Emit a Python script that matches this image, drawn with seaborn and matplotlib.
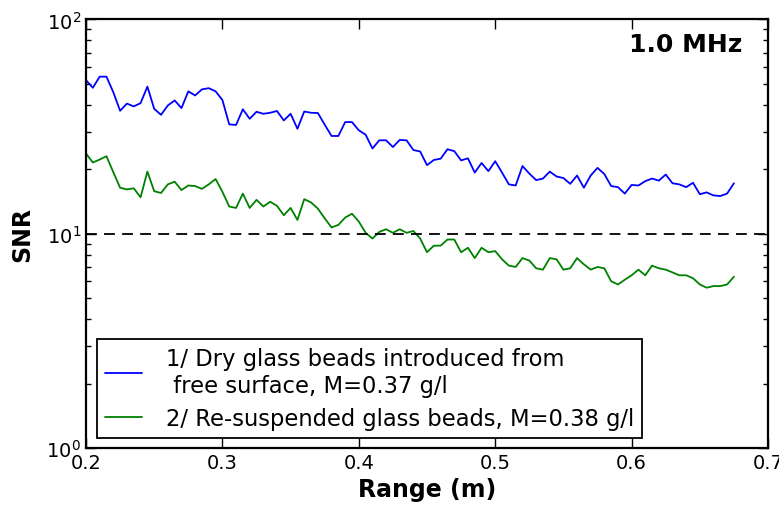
import numpy as np
import pandas as pd
import seaborn as sns
import matplotlib
matplotlib.use("Agg")
import matplotlib.pyplot as plt

# Range samples (m)
range_m = np.linspace(0.2, 0.675, 96)

# SNR, dry glass beads introduced from free surface
snr_dry = [52.1, 48.0, 54.1, 54.1, 45.8, 37.5, 40.5, 39.3, 40.7, 48.6,
           38.3, 35.9, 39.7, 41.9, 38.6, 46.2, 44.2, 47.2, 47.8, 46.2,
           42.1, 32.4, 32.2, 38.1, 34.4, 37.1, 36.3, 36.7, 37.4, 33.8,
           36.3, 30.9, 37.2, 36.7, 36.6, 32.3, 28.6, 28.6, 33.2, 33.2,
           30.4, 29.0, 25.0, 27.3, 27.3, 25.4, 27.4, 27.3, 24.6, 24.2,
           20.9, 22.1, 22.4, 24.8, 24.3, 22.0, 22.5, 19.3, 21.4, 19.6,
           21.8, 19.3, 17.0, 16.8, 20.7, 19.1, 17.8, 18.1, 19.5, 18.5,
           18.2, 17.1, 18.7, 16.4, 18.7, 20.3, 19.0, 16.7, 16.5, 15.4,
           16.9, 16.8, 17.6, 18.1, 17.7, 18.9, 17.2, 17.0, 16.5, 17.3,
           15.3, 15.6, 15.1, 15.0, 15.4, 17.2]

# SNR, re-suspended glass beads
snr_resusp = [23.7, 21.5, 22.2, 23.0, 19.4, 16.4, 16.1, 16.3, 14.8, 19.5,
              15.8, 15.5, 17.0, 17.5, 16.0, 16.8, 16.7, 16.2, 17.0, 18.0,
              15.7, 13.4, 13.2, 15.4, 13.2, 14.4, 13.4, 14.1, 13.5, 12.2,
              13.2, 11.6, 14.5, 14.0, 13.1, 11.8, 10.7, 11.0, 11.9, 12.4,
              11.4, 10.1, 9.5, 10.2, 10.5, 10.1, 10.5, 10.1, 10.3, 9.5,
              8.2, 8.8, 8.8, 9.4, 9.4, 8.2, 8.6, 7.7, 8.6, 8.2,
              8.3, 7.6, 7.1, 7.0, 7.7, 7.5, 6.9, 6.8, 7.7, 7.6,
              6.8, 6.9, 7.7, 7.2, 6.8, 7.0, 6.9, 6.0, 5.8, 6.1,
              6.4, 6.8, 6.4, 7.1, 6.9, 6.8, 6.6, 6.4, 6.4, 6.2,
              5.8, 5.6, 5.7, 5.7, 5.8, 6.3]

labels = ["1/ Dry glass beads introduced from\n free surface, M=0.37 g/l",
          "2/ Re-suspended glass beads, M=0.38 g/l"]
threshold = 10

df = pd.DataFrame({
    "Range": np.concatenate([range_m, range_m]),
    "SNR": snr_dry + snr_resusp,
    "Case": [labels[0]] * len(snr_dry) + [labels[1]] * len(snr_resusp),
})

sns.set_style("ticks")
plt.rcParams["font.family"] = ["DejaVu Sans"]
plt.rcParams["xtick.direction"] = "in"
plt.rcParams["ytick.direction"] = "in"
plt.rcParams["text.color"] = "black"
plt.rcParams["axes.labelcolor"] = "black"
plt.rcParams["xtick.color"] = "black"
plt.rcParams["ytick.color"] = "black"

fig = plt.figure(figsize=(7.79, 5.06), dpi=100)
ax = fig.add_axes([0.1104, 0.1126, 0.8755, 0.8469])

sns.lineplot(data=df, x="Range", y="SNR", hue="Case",
             palette=["#0000ff", "#008000"], linewidth=1.3, ax=ax)
ax.axhline(threshold, color="black", linestyle=(0, (6, 4)), linewidth=1.3)

ax.set_yscale("log")
ax.set_xlim(0.2, 0.7)
ax.set_ylim(1, 100)
ax.set_xticks([0.2, 0.3, 0.4, 0.5, 0.6, 0.7])
ax.set_xticklabels(["0.2", "0.3", "0.4", "0.5", "0.6", "0.7"])

ax.tick_params(which="both", top=True, right=True, labelsize=14, width=1, color="black")
ax.tick_params(which="major", length=7)
ax.tick_params(which="minor", length=3.5)
for s in ax.spines.values():
    s.set_linewidth(1.6)
    s.set_color("black")

ax.set_xlabel("Range (m)", fontsize=17, fontweight="bold", labelpad=4)
ax.set_ylabel("SNR", fontsize=17, fontweight="bold", labelpad=9)
ax.text(0.962, 0.97, "1.0 MHz", transform=ax.transAxes, ha="right", va="top",
        fontsize=18, fontweight="bold")

leg = ax.legend(loc="lower left", bbox_to_anchor=(0.016, 0.024), borderaxespad=0,
                fontsize=16.3, frameon=True, fancybox=False, handlelength=1.65,
                handletextpad=1.05, borderpad=0.35, labelspacing=0.45)
leg.get_frame().set_edgecolor("black")
leg.get_frame().set_linewidth(1.3)
leg.get_frame().set_alpha(1)

fig.savefig("out.png", dpi=100)
